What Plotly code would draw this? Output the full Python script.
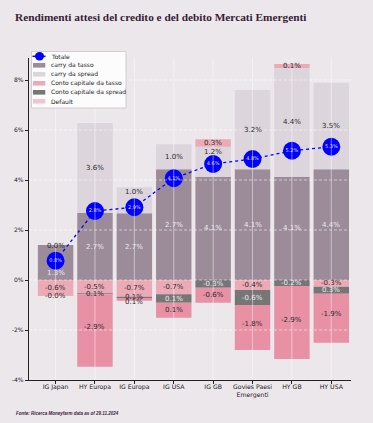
import plotly.graph_objects as go

# ---------------- data ----------------
categories = ["IG Japan", "HY Europa", "IG Europa", "IG USA", "IG GB",
              "Govies Paesi<br>Emergenti", "HY GB", "HY USA"]

carry_tasso = [1.36, 2.68, 2.67, 4.43, 4.13, 4.43, 4.13, 4.43]
carry_tasso_lbl = ["1.3%", "2.7%", "2.7%", "2.7%", "4.1%", "4.1%", "4.1%", "4.4%"]

carry_spread = [0.004, 3.6, 1.04, 1.0, 1.2, 3.17, 4.35, 3.46]
carry_spread_lbl = ["0.0%", "3.6%", "1.0%", "1.0%", "1.2%", "3.2%", "4.4%", "3.5%"]

cc_tasso = [-0.63, -0.53, -0.67, -0.57, 0.3, -0.4, 0.16, -0.27]
cc_tasso_lbl = ["-0.6%", "-0.5%", "-0.7%", "-0.7%", "0.3%", "-0.4%", "0.1%", "-0.3%"]

cc_spread = [0.03, -0.04, -0.05, -0.34, -0.31, -0.6, -0.24, -0.28]
cc_spread_lbl = ["", "0.1%", "0.1%", "0.1%", "-0.3%", "-0.6%", "-0.2%", "0.3%"]

default = [-0.01, -2.9, -0.11, -0.6, -0.6, -1.8, -2.92, -1.96]
default_lbl = ["-0.0%", "-2.9%", "0.1%", "0.1%", "-0.6%", "-1.8%", "-2.9%", "-1.9%"]

totale = [0.77, 2.76, 2.91, 4.07, 4.64, 4.84, 5.17, 5.33]

y_ticks = [-4, -2, 0, 2, 4, 6, 8]

# ---------------- styles ----------------
BG = "#ece7eb"
C_TASSO = "#9c8c99"
C_SPREAD = "#dcd5dc"
C_CCT = "#ecaab6"
C_CCS = "#767676"
C_DEF = "#e891a5"
C_DEF_LEG = "#f2c4cf"
FONT = "DejaVu Sans"
DARK = "#2a2a2a"
LIGHT = "#eeeaee"

x_idx = list(range(len(categories)))
n = len(categories)

fig = go.Figure()

# (name, values, labels, colour, label colours, label pixel nudge downwards)
series = [
    ("carry da tasso", carry_tasso, carry_tasso_lbl, C_TASSO, [LIGHT] * n,
     [10, 0, 0, 0, 0, 0, 0, 0]),
    ("carry da spread", carry_spread, carry_spread_lbl, C_SPREAD, [DARK] * n,
     [0, 0, -8, 0, -10, 0, 0, 0]),
    ("Conto capitale da tasso", cc_tasso, cc_tasso_lbl, C_CCT, [DARK] * n,
     [0] * n),
    ("Conto capitale da spread", cc_spread, cc_spread_lbl, C_CCS,
     [DARK, DARK, DARK, LIGHT, LIGHT, LIGHT, LIGHT, LIGHT], [0] * n),
    ("Default", default, default_lbl, C_DEF, [DARK] * n, [0, -4, 3, 0, 0, -4, -3, -4]),
]

annotations = []
pos_base = [0.0] * n
neg_base = [0.0] * n
for name, vals, labels, color, txtcol, dy in series:
    fig.add_trace(go.Bar(
        x=x_idx, y=vals, name=name, marker=dict(color=color, line=dict(width=0)),
        showlegend=False, hoverinfo="skip",
    ))
    # label at the middle of each stacked segment (relative stacking)
    for i, v in enumerate(vals):
        if v >= 0:
            y0 = pos_base[i]; pos_base[i] += v; y1 = pos_base[i]
        else:
            y0 = neg_base[i]; neg_base[i] += v; y1 = neg_base[i]
        if labels[i]:
            annotations.append(dict(
                text=labels[i], x=i, y=(y0 + y1) / 2, xref="x", yref="y",
                showarrow=False, xanchor="center", yanchor="middle", yshift=-dy[i],
                font=dict(family=FONT, size=7, color=txtcol[i])))

fig.add_trace(go.Scatter(
    x=x_idx, y=totale, name="Totale", mode="lines+markers+text",
    line=dict(color="#0000ff", width=1.3, dash="dot"),
    marker=dict(color="#0000ff", size=18),
    text=[f"{v:.1f}%" for v in totale], textposition="middle center",
    textfont=dict(family=FONT, size=5, color="#dcdcff"),
    showlegend=False, hoverinfo="skip",
))

# ---------------- grid lines drawn over the bars ----------------
shapes = []
for t in y_ticks:
    shapes.append(dict(type="line", xref="paper", yref="y", x0=0, x1=1, y0=t, y1=t,
                       layer="above", line=dict(color="rgba(255,255,255,0.5)", width=1, dash="3px,2px")))
for i in x_idx:
    shapes.append(dict(type="line", xref="x", yref="paper", x0=i, x1=i, y0=0, y1=1,
                       layer="above", line=dict(color="rgba(255,255,255,0.45)", width=1)))

# ---------------- compact legend (pixel offsets from plot top-left) ----------------
PX_L, PX_T = 26, 58
def px_rect(x0, x1, y0, y1, fill, line=None):
    return dict(type="rect", xref="paper", yref="paper", xanchor=0, yanchor=1,
                xsizemode="pixel", ysizemode="pixel",
                x0=x0 - PX_L, x1=x1 - PX_L, y0=PX_T - y0, y1=PX_T - y1,
                fillcolor=fill, line=line or dict(width=0), layer="above")

shapes.append(px_rect(28.5, 123, 51.5, 108, "rgba(255,255,255,0.85)",
                      dict(color="#cfcfcf", width=1)))
legend_items = [("Totale", None), ("carry da tasso", C_TASSO), ("carry da spread", C_SPREAD),
                ("Conto capitale da tasso", C_CCT), ("Conto capitale da spread", C_CCS),
                ("Default", C_DEF_LEG)]
for k, (lab, col) in enumerate(legend_items):
    cy = 56.3 + 9 * k
    if col is None:
        shapes.append(dict(type="line", xref="paper", yref="paper", xanchor=0, yanchor=1,
                           xsizemode="pixel", ysizemode="pixel",
                           x0=29.5 - PX_L, x1=42.5 - PX_L, y0=PX_T - cy, y1=PX_T - cy,
                           line=dict(color="#0000ff", width=1.5), layer="above"))
        shapes.append(dict(type="circle", xref="paper", yref="paper", xanchor=0, yanchor=1,
                           xsizemode="pixel", ysizemode="pixel",
                           x0=32 - PX_L, x1=41 - PX_L, y0=PX_T - cy + 4.2, y1=PX_T - cy - 4.2,
                           fillcolor="#0000ff", line=dict(width=0), layer="above"))
    else:
        shapes.append(px_rect(30, 42.3, cy - 2.3, cy + 2.3, col))
    annotations.append(dict(text=lab, xref="paper", yref="paper", x=0, y=1,
                            xanchor="left", yanchor="middle", showarrow=False,
                            xshift=47.7 - PX_L - 2, yshift=PX_T - cy,
                            font=dict(family=FONT, size=6, color="#222")))

annotations.append(dict(text="<i><b>Fonte: Ricerca Moneyfarm data as of 29.11.2024</b></i>",
                        xref="paper", yref="paper", x=0, y=0, xanchor="left", yanchor="middle",
                        xshift=12 - PX_L - 1, yshift=-(413 - 380), showarrow=False,
                        font=dict(family="Liberation Sans", size=4.5, color="#3a1c38")))

fig.update_layout(
    width=373, height=423,
    margin=dict(l=26, r=22, t=58, b=43, pad=0),
    paper_bgcolor=BG, plot_bgcolor=BG,
    barmode="relative", bargap=0.1,
    showlegend=False, hovermode=False,
    title=dict(text="<b>Rendimenti attesi del credito e del debito Mercati Emergenti</b>",
               xref="paper", x=0, xanchor="left", yref="container", y=1 - 17 / 423,
               yanchor="middle", pad=dict(l=-14),
               font=dict(family="Liberation Serif", size=11.3, color="#3a1c38")),
    xaxis=dict(range=[-0.675, 7.5], tickmode="array", tickvals=x_idx, ticktext=categories,
               showgrid=False, zeroline=False, showline=True, linecolor="#222", linewidth=1.3,
               ticks="outside", ticklen=3, tickcolor="#222", tickwidth=1,
               ticklabelstandoff=-3,
               tickfont=dict(family=FONT, size=6.2, color="#222")),
    yaxis=dict(range=[-4, 8.88], tickvals=y_ticks, ticktext=[f"{t}%" for t in y_ticks],
               showgrid=False, zeroline=False, showline=True, linecolor="#222", linewidth=1.3,
               ticks="outside", ticklen=3, tickcolor="#222", tickwidth=1,
               tickfont=dict(family=FONT, size=6, color="#222")),
    shapes=shapes, annotations=annotations,
)

fig.write_html("out.html", config={"displayModeBar": False, "staticPlot": True},
               post_script="document.body.style.margin='0';document.body.style.background='" + BG + "';")
